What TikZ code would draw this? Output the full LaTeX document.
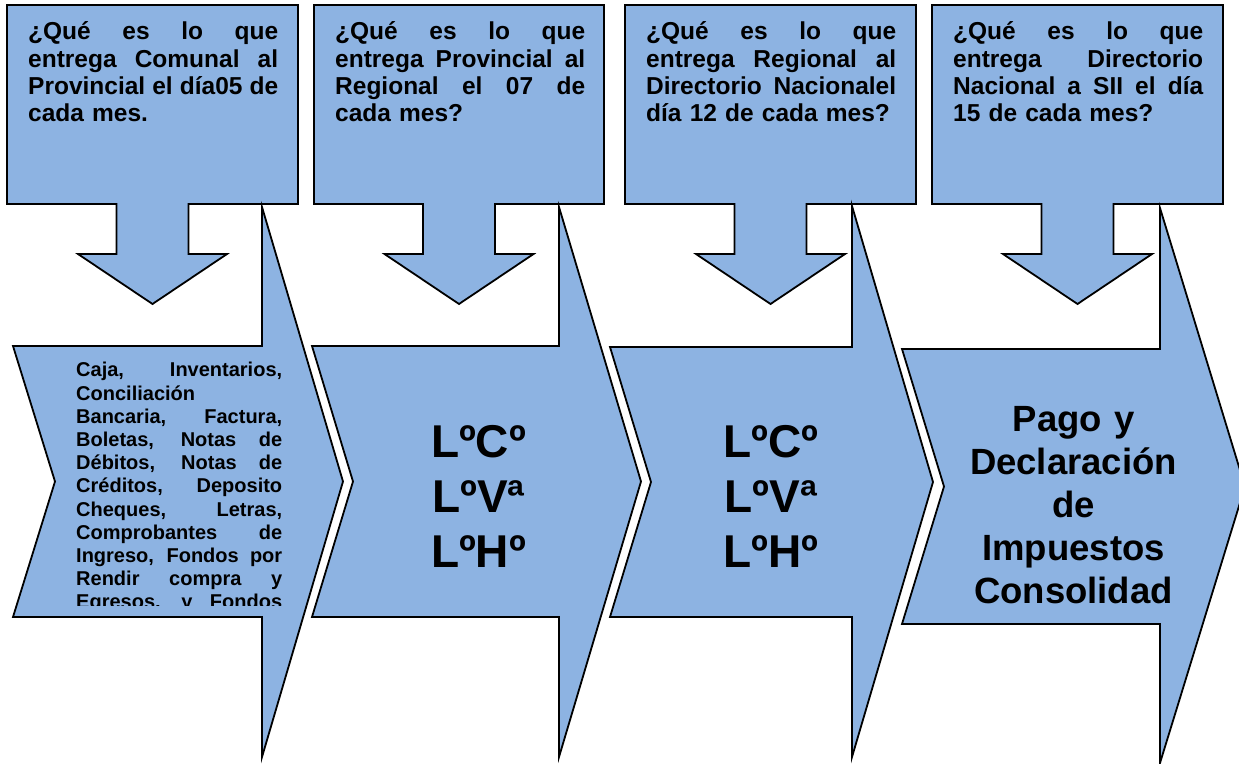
\documentclass[tikz,border=0pt]{standalone}
\usepackage{fontspec}
\setmainfont{Liberation Sans}
\definecolor{panel}{HTML}{8DB3E2}

% box with a down arrow under it: #1 left x, #2 right x
\newcommand\downcallout[2]{%
  \pgfmathsetmacro\cx{(#1+#2)/2}%
  \draw[panelshape] (#1,5) -- (#2,5) -- (#2,204) -- (\cx+36,204) -- (\cx+36,254)
    -- (\cx+74.5,254) -- (\cx,304) -- (\cx-74.5,254) -- (\cx-36,254)
    -- (\cx-36,204) -- (#1,204) -- cycle;
}
% notched chevron with tall pointed head:
% #1 left x, #2 notch x, #3 head base x, #4 tip x,
% #5 top y, #6 bottom y, #7 head top y, #8 head bottom y
\newcommand\chevronshape[8]{%
  \pgfmathsetmacro\my{(#5+#6)/2}%
  \draw[panelshape] (#1,#5) -- (#3,#5) -- (#3,#7) -- (#4,\my) -- (#3,#8)
    -- (#3,#6) -- (#1,#6) -- (#2,\my) -- cycle;
}
% one fully justified line, spaces spread over the text width
\newcommand\jl[1]{\par\hbox to\hsize{\spaceskip=0.28em plus 1fil\relax #1}}
% one line set at its natural width
\newcommand\pl[1]{\par\hbox{#1}}

\begin{document}
\begin{tikzpicture}[x=1pt,y=-1pt,
  panelshape/.style={fill=panel, draw=black, line width=1.8pt, line join=miter},
  qtext/.style={anchor=north west, inner sep=0pt, text width=250pt, align=left,
    font=\fontsize{24.5}{27.4}\selectfont\bfseries},
  listtext/.style={anchor=north west, inner sep=0pt, text width=206pt, align=left,
    font=\fontsize{20}{23.2}\selectfont\bfseries},
  bigtext/.style={anchor=north, inner sep=0pt, text width=220pt, align=center,
    font=\fontsize{46}{55}\selectfont\bfseries},
  paytext/.style={anchor=north, inner sep=0pt, text width=260pt, align=center,
    font=\fontsize{36.5}{43}\selectfont\bfseries}]

\fill[white] (0,0) rectangle (1239,763);
\useasboundingbox (0,0) rectangle (1239,763);

% question boxes with arrows
\downcallout{7}{298}
\downcallout{314}{604}
\downcallout{625}{916}
\downcallout{932}{1223}

% chevrons
\chevronshape{13}{55}{262}{343}{346}{617}{207}{757}
\chevronshape{312}{353}{559}{641}{346}{617}{207}{757}
\chevronshape{610}{651}{852}{933}{347}{617}{206}{757}
\chevronshape{902}{944}{1160}{1245}{349}{624}{208}{763}

% questions
\node[qtext] (q1) at (28,12) {\jl{\rule{0pt}{24pt}¿Qué es lo que}
  \jl{entrega Comunal al}\jl{Provincial el día05 de}\pl{cada mes.}};
\node[qtext] (q2) at (335,12) {\jl{\rule{0pt}{24pt}¿Qué es lo que}
  \jl{entrega Provincial al}\jl{Regional el 07 de}\pl{cada mes?}};
\node[qtext] (q3) at (646,12) {\jl{\rule{0pt}{24pt}¿Qué es lo que}
  \jl{entrega Regional al}\jl{Directorio Nacionalel}\pl{día 12 de cada mes?}};
\node[qtext] (q4) at (953,12) {\jl{\rule{0pt}{24pt}¿Qué es lo que}
  \jl{entrega Directorio}\jl{Nacional a SII el día}\pl{15 de cada mes?}};

% list of documents, cut off at the foot of its frame
\begin{scope}
  \clip (0,0) rectangle (1239,605);
  \node[listtext] (docs) at (76,353.5) {\jl{\rule{0pt}{21pt}Caja, Inventarios,}
    \pl{Conciliación}\jl{Bancaria, Factura,}\jl{Boletas, Notas de}
    \jl{Débitos, Notas de}\jl{Créditos, Deposito}\jl{Cheques, Letras,}
    \jl{Comprobantes de}\jl{Ingreso, Fondos por}\jl{Rendir compra y}
    \jl{Egresos, y Fondos}};
\end{scope}

% ledgers
\node[bigtext] (books2) at (478.5,407) {\rule{0pt}{50pt}LºCº\\LºVª\\LºHº};
\node[bigtext] (books3) at (771,407) {\rule{0pt}{50pt}LºCº\\LºVª\\LºHº};

% payment
\node[paytext] (pay) at (1073.5,391) {\rule{0pt}{40pt}Pago y\\Declaración\\de\\Impuestos\\Consolidad};
\end{tikzpicture}
\end{document}
